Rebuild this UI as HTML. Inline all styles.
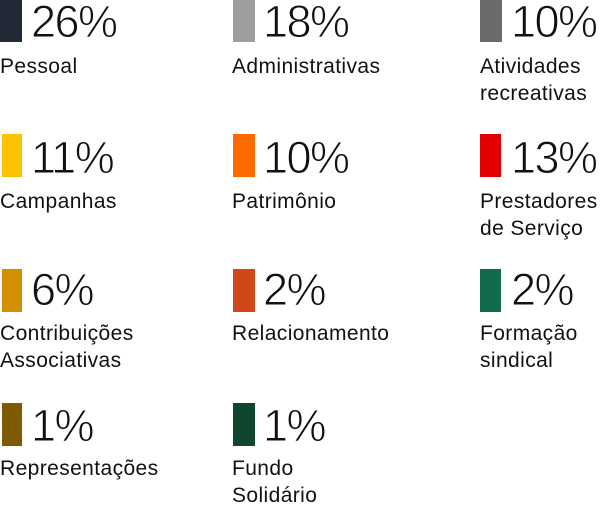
<!DOCTYPE html>
<html><head><meta charset="utf-8"><style>
html,body{margin:0;padding:0;background:#fff;width:600px;height:505px;overflow:hidden}
svg{display:block}
.p{font-family:"Liberation Sans",sans-serif;font-size:45px;letter-spacing:-1.5px;fill:#111;stroke:#fff;stroke-width:0.9px;paint-order:normal}
.l{font-family:"Liberation Sans",sans-serif;font-size:21px;letter-spacing:0.4px;fill:#111}
</style></head><body>
<svg width="600" height="505" viewBox="0 0 600 505">
<rect x="0" y="0" width="22" height="42" fill="#232a37"/>
<text class="p" x="31" y="37">26%</text>
<text class="l" x="0" y="73">Pessoal</text>
<rect x="233" y="0" width="22" height="42" fill="#9e9e9e"/>
<text class="p" x="263" y="37">18%</text>
<text class="l" x="232" y="73">Administrativas</text>
<rect x="480" y="0" width="22" height="42" fill="#6b6b6b"/>
<text class="p" x="511" y="37">10%</text>
<text class="l" x="480" y="73">Atividades</text>
<text class="l" x="480" y="100">recreativas</text>
<rect x="2" y="134" width="20" height="43" fill="#fdc300"/>
<text class="p" x="31" y="173">11%</text>
<text class="l" x="0" y="208">Campanhas</text>
<rect x="233" y="134" width="22" height="43" fill="#ff6a00"/>
<text class="p" x="263" y="173">10%</text>
<text class="l" x="232" y="208">Patrimônio</text>
<rect x="480" y="134" width="21" height="43" fill="#e30000"/>
<text class="p" x="511" y="173">13%</text>
<text class="l" x="480" y="208">Prestadores</text>
<text class="l" x="480" y="235">de Serviço</text>
<rect x="2" y="269" width="20" height="43" fill="#d39000"/>
<text class="p" x="31" y="305">6%</text>
<text class="l" x="0" y="340">Contribuições</text>
<text class="l" x="0" y="367">Associativas</text>
<rect x="233" y="269" width="22" height="43" fill="#d04719"/>
<text class="p" x="263" y="305">2%</text>
<text class="l" x="232" y="340">Relacionamento</text>
<rect x="480" y="269" width="21" height="43" fill="#0f6b4b"/>
<text class="p" x="511" y="305">2%</text>
<text class="l" x="480" y="340">Formação</text>
<text class="l" x="480" y="367">sindical</text>
<rect x="2" y="403" width="20" height="43" fill="#7e5a00"/>
<text class="p" x="31" y="441">1%</text>
<text class="l" x="0" y="475">Representações</text>
<rect x="233" y="403" width="22" height="43" fill="#10462e"/>
<text class="p" x="263" y="441">1%</text>
<text class="l" x="232" y="475">Fundo</text>
<text class="l" x="232" y="502">Solidário</text>
</svg>
</body></html>
